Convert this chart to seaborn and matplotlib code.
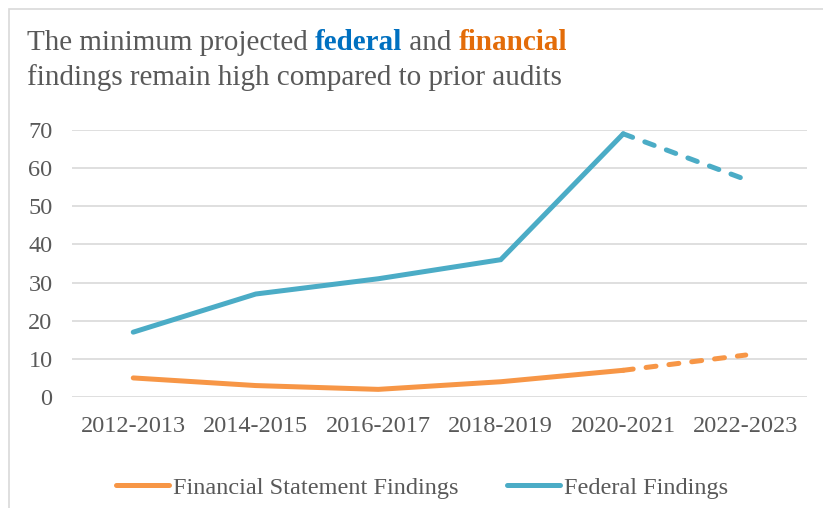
import matplotlib
matplotlib.use("Agg")
import matplotlib.pyplot as plt
import seaborn as sns
import pandas as pd
from matplotlib.patches import Rectangle
from matplotlib.lines import Line2D

categories = ["2012-2013", "2014-2015", "2016-2017", "2018-2019", "2020-2021", "2022-2023"]
financial = [5, 3, 2, 4, 7, 11]
federal = [17, 27, 31, 36, 69, 57]
yticks = [0, 10, 20, 30, 40, 50, 60, 70]

sns.set_theme(style="white")
plt.rcParams['font.family'] = ['Liberation Serif', 'DejaVu Serif']

C_FIN = "#F79646"
C_FED = "#4BACC6"
TXT = "#595959"

W, H = 823, 508
fig = plt.figure(figsize=(W / 100, H / 100), dpi=100)
ax = fig.add_axes([72 / W, 1 - 397 / H, (807 - 72) / W, (397 - 130) / H])

pos = list(range(len(categories)))
df = pd.DataFrame({"pos": pos, "financial": financial, "federal": federal})
solid = df.iloc[:5]
dashed = df.iloc[4:]

lw = 3.6
dash = (0, (2.0, 2.6))
sns.lineplot(data=solid, x="pos", y="federal", ax=ax, color=C_FED, lw=lw, solid_capstyle="round", solid_joinstyle="miter")
sns.lineplot(data=dashed, x="pos", y="federal", ax=ax, color=C_FED, lw=lw, linestyle=dash, dash_capstyle="round")
sns.lineplot(data=solid, x="pos", y="financial", ax=ax, color=C_FIN, lw=lw, solid_capstyle="round")
sns.lineplot(data=dashed, x="pos", y="financial", ax=ax, color=C_FIN, lw=lw, linestyle=dash, dash_capstyle="round")

ax.set_xlim(-0.5, 5.5)
ax.set_ylim(0, 70)
ax.set_yticks(yticks)
ax.set_xticks(pos)
ax.set_xticklabels(categories)
ax.set_xlabel("")
ax.set_ylabel("")
ax.grid(axis="y", color="#D9D9D9", lw=1.2)
ax.set_axisbelow(True)
for s in ax.spines.values():
    s.set_visible(False)
ax.tick_params(axis="both", length=0, labelsize=17.5, colors=TXT)
ax.tick_params(axis="y", pad=14)
ax.tick_params(axis="x", pad=14)

# border
fig.patches.append(Rectangle((9 / W, -0.1), 1.2, 1 - 9 / H + 0.1, transform=fig.transFigure,
                             fill=False, edgecolor="#D9D9D9", lw=1.2))

# title with colored words
renderer = fig.canvas.get_renderer()
fs = 21
x0 = 27 / W
y1 = 1 - 50 / H
y2 = 1 - 85 / H
pieces = [("The minimum projected ", TXT, "normal"), ("federal", "#0070C0", "bold"),
          (" and ", TXT, "normal"), ("financial", "#E36C09", "bold")]
x = x0
for txt, col, wt in pieces:
    t = fig.text(x, y1, txt, color=col, fontsize=fs, fontweight=wt, ha="left", va="baseline")
    bb = t.get_window_extent(renderer)
    x += bb.width / W
fig.text(x0, y2, "findings remain high compared to prior audits", color=TXT, fontsize=fs,
         ha="left", va="baseline")

handles = [Line2D([0], [0], color=C_FIN, lw=lw, solid_capstyle="round"),
           Line2D([0], [0], color=C_FED, lw=lw, solid_capstyle="round")]
fig.legend(handles, ["Financial Statement Findings", "Federal Findings"], loc="center",
           bbox_to_anchor=(422 / W, 1 - 488 / H), ncol=2, frameon=False, fontsize=17.5,
           labelcolor=TXT, handlelength=2.2, handletextpad=0.15, columnspacing=2.0)

fig.savefig("out.png", dpi=100)
